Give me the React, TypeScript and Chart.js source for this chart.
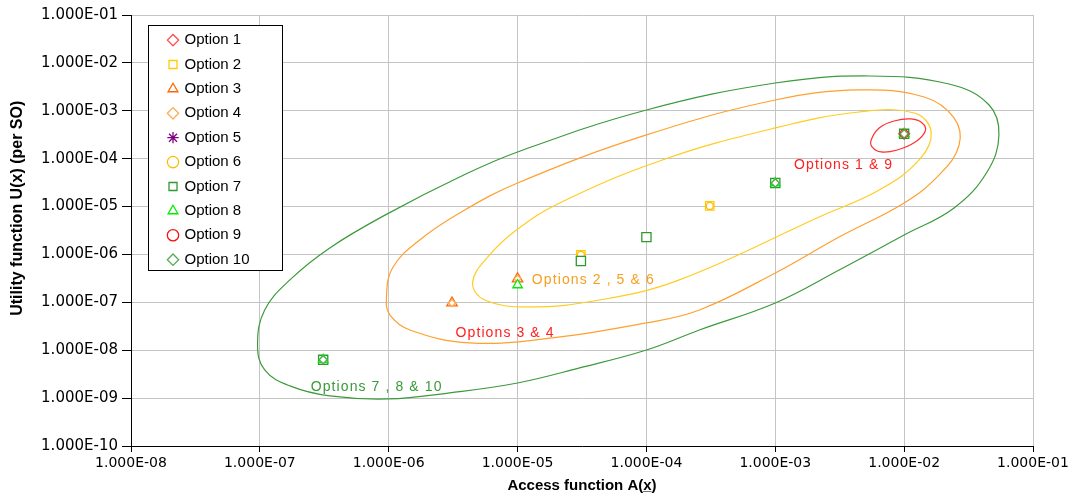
import React, { useEffect, useRef } from 'react';
import { Chart, registerables } from 'chart.js';

Chart.register(...registerables);

// ---------- Data ----------
const optionLabels = ['Option 1', 'Option 2', 'Option 3', 'Option 4', 'Option 5', 'Option 6', 'Option 7', 'Option 8', 'Option 9', 'Option 10'];

const option1X = [1.0e-2];
const option1Y = [3.3e-4];
const option2X = [3.1e-5, 3.1e-4];
const option2Y = [9.8e-7, 1.03e-5];
const option3X = [3.1e-6, 1.0e-5];
const option3Y = [9.7e-8, 3.1e-7];
const option4X = [3.1e-6, 1.0e-5];
const option4Y = [9.7e-8, 3.1e-7];
const option5X = [3.1e-5, 3.1e-4];
const option5Y = [9.8e-7, 1.03e-5];
const option6X = [3.1e-5, 3.1e-4];
const option6Y = [9.8e-7, 1.03e-5];
const option7X = [3.1e-7, 3.1e-5, 1.0e-4, 1.0e-3, 1.0e-2];
const option7Y = [6.3e-9, 7.3e-7, 2.3e-6, 3.1e-5, 3.3e-4];
const option8X = [3.1e-7, 1.0e-5, 1.0e-3, 1.0e-2];
const option8Y = [6.3e-9, 2.3e-7, 3.1e-5, 3.3e-4];
const option9X = [1.0e-2];
const option9Y = [3.3e-4];
const option10X = [3.1e-7, 1.0e-3, 1.0e-2];
const option10Y = [6.3e-9, 3.1e-5, 3.3e-4];

// Region contours
const greenRegionX = [9.6e-8, 1.09e-7, 1.71e-7, 3.49e-7, 1.0e-6, 3.55e-6, 1.0e-5, 1.0e-4, 1.0e-3, 5.36e-3, 2.23e-2, 4.56e-2, 5.44e-2, 4.4e-2, 2.44e-2, 1.0e-2, 3.13e-3, 1.0e-3, 2.58e-4, 1.0e-4, 3.03e-5, 1.0e-5, 2.97e-6, 1.0e-6, 3.49e-7, 1.71e-7, 1.09e-7];
const greenRegionY = [1.29e-8, 6.9e-8, 2.94e-7, 1.37e-6, 7.3e-6, 4.15e-5, 1.38e-4, 1.04e-3, 3.8e-3, 5.33e-3, 3.62e-3, 1.32e-3, 3.13e-4, 5.27e-5, 9.35e-6, 2.55e-6, 4.74e-7, 9.7e-8, 2.65e-8, 1.01e-8, 4.27e-9, 2.07e-9, 1.29e-9, 9.6e-10, 1.11e-9, 1.8e-9, 3.88e-9];
const orangeRegionX = [9.6e-7, 1.07e-6, 1.74e-6, 3.55e-6, 1.0e-5, 1.0e-4, 1.0e-3, 4.48e-3, 1.43e-2, 2.44e-2, 2.67e-2, 1.87e-2, 1.0e-2, 3.13e-3, 1.0e-3, 2.58e-4, 1.0e-4, 1.87e-5, 4.25e-6, 1.46e-6, 1.02e-6];
const orangeRegionY = [1.24e-7, 5.22e-7, 2.01e-6, 7.35e-6, 3.11e-5, 3.13e-4, 1.68e-3, 2.72e-3, 1.94e-3, 7.08e-4, 1.93e-4, 4.57e-5, 1.19e-5, 2.32e-6, 4.11e-7, 6.93e-8, 3.72e-8, 1.81e-8, 1.42e-8, 2.65e-8, 5.46e-8];
const yellowRegionX = [4.48e-6, 6.07e-6, 9.8e-6, 2.12e-5, 1.33e-4, 1.0e-3, 4.48e-3, 1.2e-2, 1.62e-2, 1.31e-2, 6.4e-3, 2.19e-3, 1.8e-4, 4.33e-5, 1.24e-5, 5.55e-6];
const yellowRegionY = [2.67e-7, 9.77e-7, 3.24e-6, 1.19e-5, 9.4e-5, 4.38e-4, 9.44e-4, 9.0e-4, 3.6e-4, 9.4e-5, 2.22e-5, 6.07e-6, 2.94e-7, 1.12e-7, 8.0e-8, 1.12e-7];
const redRegionX = [5.55e-3, 6.4e-3, 8.36e-3, 1.13e-2, 1.38e-2, 1.46e-2, 1.22e-2, 8.83e-3, 6.64e-3, 5.65e-3];
const redRegionY = [2.45e-4, 4.38e-4, 6.12e-4, 6.75e-4, 5.56e-4, 3.79e-4, 2.23e-4, 1.52e-4, 1.38e-4, 1.75e-4];

const annotationTexts = ['Options 1 & 9', 'Options 2 , 5 & 6', 'Options 3 & 4', 'Options 7 , 8 & 10'];
const annotationX = [1.4e-3, 1.29e-5, 3.3e-6, 2.48e-7];
const annotationY = [7.4e-5, 2.9e-7, 2.3e-8, 1.71e-9];

const xTickValues = [1e-8, 1e-7, 1e-6, 1e-5, 1e-4, 1e-3, 1e-2, 1e-1];
const xTickLabels = ['1.000E-08', '1.000E-07', '1.000E-06', '1.000E-05', '1.000E-04', '1.000E-03', '1.000E-02', '1.000E-01'];
const yTickValues = [1e-10, 1e-9, 1e-8, 1e-7, 1e-6, 1e-5, 1e-4, 1e-3, 1e-2, 1e-1];
const yTickLabels = ['1.000E-10', '1.000E-09', '1.000E-08', '1.000E-07', '1.000E-06', '1.000E-05', '1.000E-04', '1.000E-03', '1.000E-02', '1.000E-01'];

const xTitle = 'Access function A(x\u0332)';
const yTitle = 'Utility function U(x) (per SO)';

// ---------- Styles ----------
const optionColors = ['#FF4A4A', '#FFCC00', '#FF6600', '#FFAA55', '#800080', '#FFBB00', '#2E9A2E', '#00EE00', '#FF1010', '#55AA55'];
const optionPointStyles = ['rectRot', 'rect', 'triangle', 'rectRot', 'star', 'circle', 'rect', 'triangle', 'circle', 'rectRot'];
const optionRadius = [5.5, 6, 6, 3.5, 4, 3.5, 6.5, 5.5, 4, 4];
const optionDrawOrder = [10, 9, 8, 7, 15, 5, 4, 3, 2, 1];
const regionColors = ['#3C9A3C', '#FFA030', '#FFCC22', '#FF3030'];
const annotationColors = ['#FF2020', '#F5A020', '#FF2020', '#3A9A3A'];

const optionSeries = [
  [option1X, option1Y], [option2X, option2Y], [option3X, option3Y], [option4X, option4Y], [option5X, option5Y],
  [option6X, option6Y], [option7X, option7Y], [option8X, option8Y], [option9X, option9Y], [option10X, option10Y],
];
const regionSeries = [
  [greenRegionX, greenRegionY], [orangeRegionX, orangeRegionY], [yellowRegionX, yellowRegionY], [redRegionX, redRegionY],
];

const zip = (xs: number[], ys: number[]) => xs.map((x, i) => ({ x, y: ys[i] }));

const closeLoops = {
  id: 'closeLoops',
  afterDatasetsUpdate(chart: any) {
    chart.data.datasets.forEach((ds: any, i: number) => {
      if (!ds.isRegion) return;
      const line = chart.getDatasetMeta(i).dataset;
      if (!line) return;
      line._loop = true;
      line._fullLoop = true;
      line.points = line.points;
    });
  },
};

const legendBox = {
  id: 'legendBox',
  afterLayout(chart: any) {
    const lg = chart.legend;
    if (!lg) return;
    lg.left = chart.chartArea.left + 28.6;
    lg.top = chart.chartArea.top + 8.2;
  },
  beforeDatasetsDraw(chart: any) {
    const lg = chart.legend;
    if (!lg) return;
    const { ctx, chartArea } = chart;
    ctx.save();
    ctx.fillStyle = '#FFFFFF';
    ctx.fillRect(chartArea.left + 17, chartArea.top + 10, 134, 245);
    ctx.strokeStyle = '#000000';
    ctx.lineWidth = 1;
    ctx.strokeRect(chartArea.left + 17.5, chartArea.top + 10.5, 134, 245);
    ctx.restore();
    lg.draw(chartArea);
  },
};

const annotationLabels = {
  id: 'annotationLabels',
  afterDatasetsDraw(chart: any) {
    const { ctx } = chart;
    const xs = chart.scales.x;
    const ys = chart.scales.y;
    ctx.save();
    ctx.font = '14px "Liberation Sans", Arial, sans-serif';
    ctx.textAlign = 'left';
    ctx.textBaseline = 'middle';
    (ctx as any).letterSpacing = '1.1px';
    annotationTexts.forEach((t, i) => {
      ctx.fillStyle = annotationColors[i];
      ctx.fillText(t, xs.getPixelForValue(annotationX[i]), ys.getPixelForValue(annotationY[i]));
    });
    (ctx as any).letterSpacing = '0px';
    ctx.restore();
  },
};

export default function App() {
  const canvasRef = useRef<HTMLCanvasElement | null>(null);

  useEffect(() => {
    if (!canvasRef.current) return;
    const optionDatasets = optionLabels.map((label, i) => ({
      type: 'scatter',
      label,
      data: zip(optionSeries[i][0], optionSeries[i][1]),
      pointStyle: optionPointStyles[i],
      borderColor: optionColors[i],
      backgroundColor: '#FFFFFF',
      pointRadius: optionRadius[i],
      pointBorderWidth: 1.3,
      showLine: false,
      order: optionDrawOrder[i],
    }));
    const regionDatasets = regionSeries.map((s, i) => ({
      type: 'line',
      label: annotationTexts[i],
      isRegion: true,
      data: zip(s[0], s[1]),
      borderColor: regionColors[i],
      backgroundColor: regionColors[i],
      borderWidth: 1.2,
      pointRadius: 0,
      tension: 0.4,
      fill: false,
      order: 20,
    }));

    const chart = new Chart(canvasRef.current, {
      type: 'scatter',
      data: { datasets: [...optionDatasets, ...regionDatasets] as any },
      plugins: [closeLoops, legendBox, annotationLabels],
      options: {
        animation: false,
        responsive: false,
        events: [],
        layout: { padding: { top: 15, right: 39, bottom: 0, left: 0 } },
        scales: {
          x: {
            type: 'logarithmic',
            min: 1e-8,
            max: 1e-1,
            position: 'bottom',
            afterBuildTicks: (s: any) => { s.ticks = xTickValues.map((v) => ({ value: v })); },
            afterFit: (s: any) => { s.height = 49; },
            ticks: {
              callback: (_v: any, i: number) => xTickLabels[i],
              font: { family: 'DejaVu Sans', size: 14 },
              color: '#000',
              padding: 3,
              maxRotation: 0,
              autoSkip: false,
            },
            grid: { color: '#C4C4C4', tickColor: '#000', tickLength: 6, lineWidth: 1 },
            border: { color: '#000', width: 1 },
            title: {
              display: true,
              text: xTitle,
              color: '#000',
              font: { family: 'Liberation Sans', size: 15, weight: 'bold' },
              padding: { top: 0, bottom: 0 },
            },
          },
          y: {
            type: 'logarithmic',
            min: 1e-10,
            max: 1e-1,
            position: 'left',
            afterBuildTicks: (s: any) => { s.ticks = yTickValues.map((v) => ({ value: v })); },
            afterFit: (s: any) => { s.width = 131; },
            ticks: {
              callback: (_v: any, i: number) => yTickLabels[i],
              font: { family: 'DejaVu Sans', size: 15 },
              color: '#000',
              padding: 4,
              autoSkip: false,
            },
            grid: { color: '#C4C4C4', tickColor: '#000', tickLength: 9, lineWidth: 1 },
            border: { color: '#000', width: 1 },
            title: {
              display: true,
              text: '          ' + yTitle,
              color: '#000',
              font: { family: 'Liberation Sans', size: 16, weight: 'bold' },
              padding: { top: 8, bottom: 0 },
            },
          },
        },
        plugins: {
          tooltip: { enabled: false },
          legend: {
            position: 'chartArea',
            align: 'start',
            labels: {
              usePointStyle: true,
              boxWidth: 8,
              boxHeight: 8,
              padding: 9.4,
              color: '#000',
              font: { family: 'Liberation Sans', size: 15 },
              filter: (item: any) => item.datasetIndex < optionLabels.length,
              sort: (a: any, b: any) => a.datasetIndex - b.datasetIndex,
            },
          },
        },
      } as any,
    });
    return () => chart.destroy();
  }, []);

  return (
    <div style={{ position: 'absolute', left: 0, top: 0, width: 1072, height: 495, background: '#fff' }}>
      <canvas ref={canvasRef} width={1072} height={495} />
    </div>
  );
}
